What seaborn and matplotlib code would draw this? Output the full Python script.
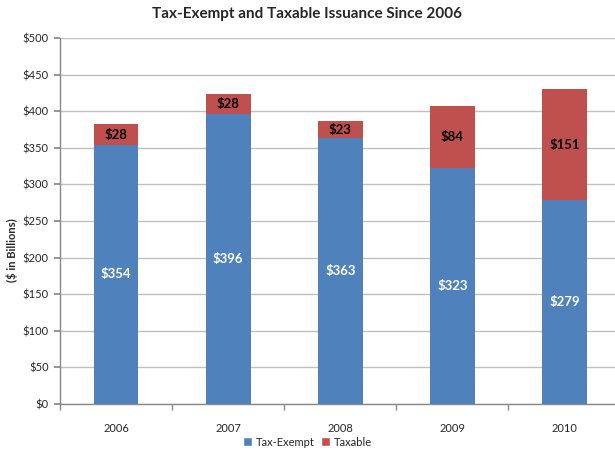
import matplotlib
matplotlib.use("Agg")
import matplotlib.pyplot as plt
import seaborn as sns
import pandas as pd
from matplotlib.patches import Patch

years = ["2006", "2007", "2008", "2009", "2010"]
tax_exempt = [354, 396, 363, 323, 279]
taxable = [28, 28, 23, 84, 151]
yticks = [0, 50, 100, 150, 200, 250, 300, 350, 400, 450, 500]

BLUE = "#4F81BD"
RED = "#C0504D"

sns.set_theme(style="white")
plt.rcParams["font.family"] = ["Lato", "DejaVu Sans"]

df = pd.DataFrame({"year": years, "exempt": tax_exempt, "taxable": taxable})
df["total"] = df["exempt"] + df["taxable"]

fig = plt.figure(figsize=(6.15, 4.51), dpi=100)
ax = fig.add_axes([60 / 615, 1 - 404 / 451, 1 - 60 / 615, (404 - 38) / 451])

sns.barplot(data=df, x="year", y="total", color=RED, width=0.4, ax=ax,
            saturation=1, edgecolor="none")
sns.barplot(data=df, x="year", y="exempt", color=BLUE, width=0.4, ax=ax,
            saturation=1, edgecolor="none")

for i, (e, t) in enumerate(zip(tax_exempt, taxable)):
    ax.text(i, e / 2, f"${e}", ha="center", va="center", color="white",
            fontsize=9.5, fontweight="bold")
    ax.text(i, e + t / 2, f"${t}", ha="center", va="center", color="black",
            fontsize=9.5, fontweight="bold")

ax.set_ylim(0, 500)
ax.set_xlim(-0.5, 4.45)
ax.set_yticks(yticks)
ax.set_yticklabels([f"${v}" for v in yticks], fontsize=8)
ax.set_xticks(range(len(years)))
ax.set_xticklabels(years, fontsize=8)
ax.set_xlabel("")
ax.set_ylabel("($ in Billions)", fontsize=8, fontweight="bold")
ax.yaxis.set_label_coords(-0.076, 0.42)

ax.yaxis.grid(True, color="#BFBFBF", linewidth=1)
ax.set_axisbelow(True)
for s in ["top", "right"]:
    ax.spines[s].set_visible(False)
for s in ["left", "bottom"]:
    ax.spines[s].set_color("#888888")
    ax.spines[s].set_linewidth(1)

ax.tick_params(axis="y", which="major", left=True, length=4, color="#888888", pad=4)
ax.tick_params(axis="x", which="major", bottom=False, pad=8)
ax.set_xticks([i - 0.5 for i in range(len(years))], minor=True)
ax.tick_params(axis="x", which="minor", bottom=True, length=4, color="#888888")

fig.suptitle("Tax-Exempt and Taxable Issuance Since 2006", x=0.5, y=0.985,
             fontsize=11, fontweight="bold")

handles = [Patch(facecolor=BLUE, label="Tax-Exempt"), Patch(facecolor=RED, label="Taxable")]
fig.legend(handles=handles, loc="center", bbox_to_anchor=(0.5, 1 - 442 / 451), ncol=2,
           frameon=False, fontsize=8, handlelength=0.8, handleheight=0.8,
           handletextpad=0.3, columnspacing=0.6)

fig.savefig("out.png", dpi=100)
